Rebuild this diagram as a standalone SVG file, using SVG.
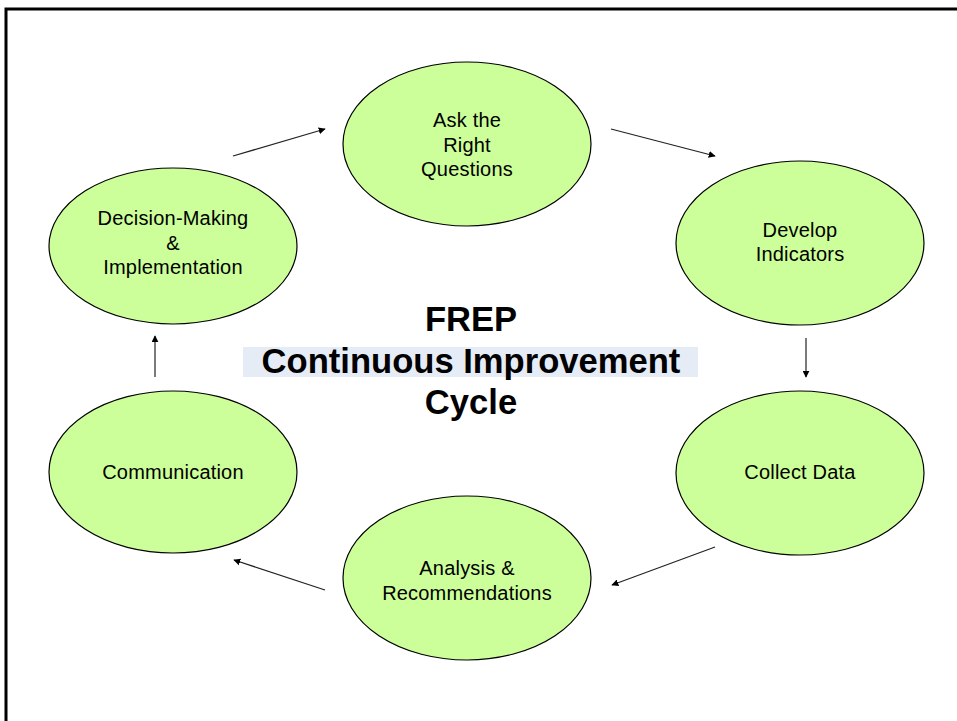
<svg xmlns="http://www.w3.org/2000/svg" width="957" height="721" viewBox="0 0 957 721">
<defs>
<marker id="ah" viewBox="0 0 10 10" refX="9" refY="5" markerWidth="7" markerHeight="7" markerUnits="userSpaceOnUse" orient="auto">
<path d="M0,0 L10,5 L0,10 z" fill="#000"/>
</marker>
<style>
.node ellipse{fill:#CCFF99;stroke:#000;stroke-width:1.2}
.node text{font-family:"Liberation Sans",Arial,sans-serif;font-size:20px;letter-spacing:0.2px;fill:#000;text-anchor:middle}
.title{font-family:"Liberation Sans",Arial,sans-serif;font-size:34.6px;font-weight:bold;fill:#000;text-anchor:middle}
#connectors line{stroke:#222;stroke-width:1.2;marker-end:url(#ah)}
</style>
</defs>
<rect x="0" y="0" width="957" height="721" fill="#fff"/>
<path d="M6,721 V9 H957" fill="none" stroke="#000" stroke-width="3"/>

<g id="title">
<rect x="243" y="347" width="455" height="30" fill="#E6ECF6"/>
<text class="title" x="471" y="331">FREP</text>
<text class="title" x="471" y="373">Continuous Improvement</text>
<text class="title" x="471" y="414">Cycle</text>
</g>

<g id="connectors">
<line x1="611" y1="129" x2="715" y2="156"/>
<line x1="806" y1="338" x2="806" y2="377"/>
<line x1="715" y1="547" x2="612" y2="585"/>
<line x1="325" y1="590" x2="234" y2="560"/>
<line x1="155" y1="377" x2="155" y2="336"/>
<line x1="233" y1="156" x2="325" y2="129"/>
</g>

<g id="ask" class="node">
<ellipse cx="467" cy="144" rx="124" ry="82"/>
<text x="467" y="127">Ask the</text>
<text x="467" y="152">Right</text>
<text x="467" y="176">Questions</text>
</g>
<g id="develop" class="node">
<ellipse cx="800" cy="243" rx="124" ry="82"/>
<text x="800" y="237">Develop</text>
<text x="800" y="261">Indicators</text>
</g>
<g id="collect" class="node">
<ellipse cx="800" cy="473" rx="124" ry="82"/>
<text x="800" y="479">Collect Data</text>
</g>
<g id="analysis" class="node">
<ellipse cx="467" cy="578" rx="124" ry="82"/>
<text x="467" y="575">Analysis &amp;</text>
<text x="467" y="600">Recommendations</text>
</g>
<g id="communication" class="node">
<ellipse cx="173" cy="472" rx="124" ry="81"/>
<text x="173" y="479">Communication</text>
</g>
<g id="decision" class="node">
<ellipse cx="173" cy="246" rx="124" ry="78"/>
<text x="173" y="225">Decision-Making</text>
<text x="173" y="250">&amp;</text>
<text x="173" y="274">Implementation</text>
</g>
</svg>
